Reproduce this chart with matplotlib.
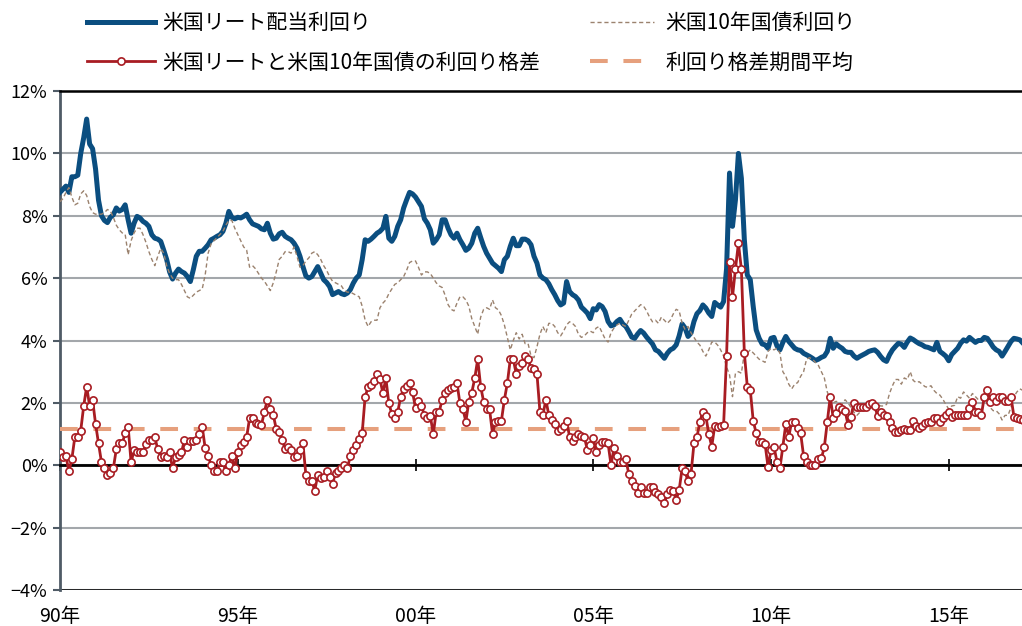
import matplotlib.pyplot as plt
import numpy as np
from matplotlib.lines import Line2D

plt.rcParams['font.family'] = ['Noto Sans CJK JP', 'DejaVu Sans']

# 月次データ（1990年1月〜）, 単位: %
start_year = 1990

reit_yield = [
    8.75, 8.85, 8.95, 8.75, 9.25, 9.25, 9.3, 10.0, 10.5, 11.1, 10.3, 10.15,   # 1990
    9.5, 8.5, 8.0, 7.85, 7.78, 7.95, 8.03, 8.25, 8.15, 8.2, 8.35, 7.87,       # 1991
    7.44, 7.76, 7.98, 7.93, 7.82, 7.76, 7.66, 7.39, 7.28, 7.25, 7.18, 6.9,    # 1992
    6.6, 6.2, 5.97, 6.16, 6.29, 6.21, 6.16, 6.05, 5.89, 6.27, 6.7, 6.86,      # 1993
    6.86, 6.96, 7.07, 7.23, 7.28, 7.34, 7.39, 7.5, 7.76, 8.14, 7.95, 7.9,     # 1994
    7.95, 7.93, 7.98, 8.05, 7.87, 7.74, 7.7, 7.66, 7.58, 7.55, 7.76, 7.44,    # 1995
    7.25, 7.28, 7.42, 7.47, 7.34, 7.28, 7.23, 7.12, 6.96, 6.7, 6.37, 6.07,    # 1996
    6.0, 6.05, 6.21, 6.37, 6.16, 5.95, 5.86, 5.73, 5.47, 5.52, 5.57, 5.5,     # 1997
    5.47, 5.52, 5.63, 5.84, 6.0, 6.1, 6.59, 7.23, 7.18, 7.25, 7.34, 7.44,     # 1998
    7.5, 7.6, 7.98, 7.28, 7.18, 7.34, 7.66, 7.87, 8.25, 8.51, 8.75, 8.7,      # 1999
    8.6, 8.45, 8.3, 7.9, 7.76, 7.55, 7.12, 7.23, 7.39, 7.87, 7.87, 7.6,       # 2000
    7.39, 7.28, 7.44, 7.23, 7.07, 6.89, 6.96, 7.12, 7.44, 7.6, 7.3, 7.02,     # 2001
    6.8, 6.64, 6.48, 6.4, 6.32, 6.21, 6.59, 6.7, 7.02, 7.28, 7.04, 7.04,      # 2002
    7.25, 7.25, 7.2, 7.07, 6.7, 6.48, 6.1, 6.0, 5.95, 5.82, 5.63, 5.47,       # 2003
    5.28, 5.14, 5.2, 5.89, 5.57, 5.47, 5.41, 5.3, 5.07, 4.98, 4.88, 4.7,      # 2004
    5.02, 4.98, 5.15, 5.09, 4.93, 4.61, 4.47, 4.5, 4.61, 4.68, 4.53, 4.45,    # 2005
    4.29, 4.11, 4.07, 4.21, 4.32, 4.24, 4.11, 4.0, 3.89, 3.7, 3.65, 3.54,     # 2006
    3.43, 3.59, 3.7, 3.75, 3.86, 4.15, 4.53, 4.4, 4.13, 4.24, 4.61, 4.86,     # 2007
    4.96, 5.14, 5.04, 4.88, 4.77, 5.22, 5.14, 5.07, 5.25, 6.3, 9.37, 7.66,    # 2008
    8.51, 10.0, 9.2, 7.23, 6.1, 5.95, 5.09, 4.34, 4.07, 3.89, 3.86, 3.75,     # 2009
    4.07, 4.1, 3.83, 3.7, 3.94, 4.13, 3.97, 3.86, 3.75, 3.7, 3.68, 3.59,      # 2010
    3.54, 3.49, 3.43, 3.36, 3.4, 3.46, 3.5, 3.65, 4.07, 3.75, 3.89, 3.81,     # 2011
    3.75, 3.65, 3.62, 3.62, 3.5, 3.43, 3.49, 3.54, 3.59, 3.65, 3.68, 3.7,     # 2012
    3.62, 3.49, 3.38, 3.33, 3.54, 3.7, 3.81, 3.91, 3.88, 3.78, 3.95, 4.08,    # 2013
    4.03, 3.96, 3.9, 3.86, 3.8, 3.78, 3.74, 3.7, 3.94, 3.65, 3.58, 3.5,       # 2014
    3.35, 3.55, 3.65, 3.75, 3.91, 4.02, 3.98, 4.1, 4.02, 3.94, 4.0, 4.0,      # 2015
    4.1, 4.07, 3.94, 3.79, 3.7, 3.65, 3.5, 3.65, 3.81, 3.97, 4.07, 4.05,      # 2016
    4.02, 3.92,                                                               # 2017
]

ust10_yield = [
    8.45, 8.55, 8.75, 8.9, 8.6, 8.35, 8.4, 8.7, 8.8, 8.65, 8.3, 8.1,          # 1990
    8.05, 8.05, 8.05, 8.1, 8.2, 8.15, 7.95, 7.7, 7.55, 7.45, 7.4, 6.75,       # 1991
    7.2, 7.45, 7.6, 7.6, 7.4, 7.15, 6.85, 6.6, 6.4, 6.7, 6.95, 6.8,           # 1992
    6.4, 6.15, 6.0, 5.95, 5.95, 5.8, 5.6, 5.4, 5.35, 5.45, 5.55, 5.6,         # 1993
    5.65, 6.1, 6.8, 7.1, 7.2, 7.3, 7.4, 7.5, 7.7, 7.85, 7.85, 7.6,            # 1994
    7.4, 7.2, 7.0, 6.9, 6.35, 6.4, 6.3, 6.15, 6.0, 5.9, 5.75, 5.6,            # 1995
    5.85, 6.2, 6.6, 6.7, 6.85, 6.85, 6.8, 7.0, 6.7, 6.35, 6.4, 6.55,          # 1996
    6.65, 6.8, 6.85, 6.75, 6.6, 6.4, 6.25, 6.05, 5.9, 5.85, 5.8, 5.75,        # 1997
    5.6, 5.55, 5.55, 5.5, 5.45, 5.4, 5.1, 4.65, 4.45, 4.6, 4.65, 4.65,        # 1998
    5.05, 5.2, 5.3, 5.5, 5.65, 5.8, 5.85, 5.95, 6.05, 6.25, 6.5, 6.55,        # 1999
    6.55, 6.35, 6.1, 6.2, 6.2, 6.15, 6.0, 5.85, 5.75, 5.7, 5.45, 5.15,        # 2000
    5.0, 4.95, 5.2, 5.4, 5.4, 5.3, 5.1, 4.7, 4.45, 4.2, 4.75, 5.0,            # 2001
    5.05, 5.0, 5.3, 5.05, 4.98, 4.8, 4.5, 4.1, 3.7, 4.0, 4.25, 4.05,          # 2002
    4.2, 3.9, 3.9, 3.5, 3.45, 3.8, 4.2, 4.45, 4.25, 4.55, 4.55, 4.45,         # 2003
    4.25, 4.15, 4.3, 4.5, 4.6, 4.55, 4.45, 4.2, 4.1, 4.15, 4.25, 4.3,         # 2004
    4.25, 4.4, 4.45, 4.25, 4.05, 3.95, 4.25, 4.4, 4.5, 4.55, 4.5, 4.45,       # 2005
    4.65, 4.85, 4.95, 5.05, 5.15, 5.1, 4.95, 4.75, 4.6, 4.65, 4.55, 4.75,     # 2006
    4.65, 4.55, 4.65, 4.85, 5.0, 4.95, 4.55, 4.35, 4.45, 4.25, 4.1, 3.95,     # 2007
    3.85, 3.65, 3.5, 3.7, 3.95, 3.95, 3.85, 3.7, 3.5, 3.15, 2.9, 2.2,         # 2008
    2.95, 3.0, 2.95, 3.6, 3.6, 3.7, 3.6, 3.5, 3.4, 3.35, 3.3, 3.65,           # 2009
    3.75, 3.7, 3.75, 3.6, 3.0, 2.85, 2.6, 2.45, 2.6, 2.65, 2.85, 3.0,         # 2010
    3.4, 3.45, 3.4, 3.3, 3.2, 3.0, 2.8, 2.35, 2.1, 2.0, 2.05, 2.0,            # 2011
    1.95, 2.1, 2.0, 1.85, 1.7, 1.6, 1.7, 1.75, 1.85, 1.8, 1.85, 1.95,         # 2012
    1.95, 1.9, 1.9, 1.95, 2.3, 2.55, 2.75, 2.75, 2.6, 2.8, 2.75, 3.0,         # 2013
    2.72, 2.65, 2.68, 2.6, 2.52, 2.5, 2.55, 2.4, 2.3, 2.25, 2.12, 1.95,       # 2014
    1.8, 1.9, 1.92, 2.2, 2.15, 2.35, 2.25, 2.15, 2.3, 2.2, 2.1, 2.1,          # 2015
    2.25, 2.05, 1.85, 1.75, 1.75, 1.65, 1.45, 1.6, 1.6, 1.85, 2.2, 2.35,      # 2016
    2.45, 2.4,                                                                # 2017
]

yield_spread = [
    0.41, 0.26, 0.3, -0.2, 0.2, 0.9, 0.9, 1.11, 1.9, 2.52, 1.9, 2.1,          # 1990
    1.33, 0.7, 0.1, -0.1, -0.31, -0.24, -0.1, 0.51, 0.7, 0.7, 1.03, 1.24,     # 1991
    0.09, 0.49, 0.41, 0.41, 0.41, 0.68, 0.81, 0.81, 0.9, 0.51, 0.28, 0.3,     # 1992
    0.28, 0.41, -0.1, 0.26, 0.33, 0.41, 0.81, 0.57, 0.79, 0.79, 0.8, 1.0,     # 1993
    1.24, 0.55, 0.3, 0.01, -0.2, -0.2, 0.09, 0.09, -0.2, 0.01, 0.3, -0.1,     # 1994
    0.41, 0.65, 0.76, 0.9, 1.51, 1.5, 1.35, 1.32, 1.29, 1.72, 2.1, 1.8,       # 1995
    1.61, 1.16, 1.08, 0.81, 0.51, 0.6, 0.5, 0.28, 0.3, 0.5, 0.7, -0.31,       # 1996
    -0.52, -0.52, -0.81, -0.31, -0.42, -0.38, -0.2, -0.38, -0.6, -0.24, -0.2, -0.1,  # 1997
    0.01, -0.1, 0.3, 0.5, 0.65, 0.83, 1.03, 2.2, 2.5, 2.58, 2.7, 2.93,        # 1998
    2.76, 2.31, 2.79, 1.99, 1.65, 1.51, 1.7, 2.2, 2.45, 2.55, 2.63, 2.35,     # 1999
    1.83, 2.07, 1.9, 1.61, 1.5, 1.58, 1.0, 1.72, 1.72, 2.1, 2.31, 2.42,       # 2000
    2.47, 2.52, 2.63, 1.99, 1.8, 1.4, 2.04, 2.33, 2.79, 3.4, 2.52, 2.04,      # 2001
    1.8, 1.8, 1.0, 1.4, 1.43, 1.43, 2.1, 2.63, 3.4, 3.4, 2.93, 3.17,          # 2002
    3.29, 3.51, 3.4, 3.11, 3.1, 2.93, 1.72, 1.61, 2.1, 1.61, 1.45, 1.33,      # 2003
    1.11, 1.15, 1.25, 1.43, 0.92, 0.79, 0.9, 1.0, 0.95, 0.9, 0.5, 0.65,       # 2004
    0.88, 0.41, 0.65, 0.75, 0.75, 0.7, 0.01, 0.55, 0.3, 0.09, 0.09, 0.19,     # 2005
    -0.28, -0.49, -0.68, -0.9, -0.7, -0.9, -0.9, -0.7, -0.7, -0.85, -0.92, -1.03,    # 2006
    -1.22, -0.92, -0.8, -0.82, -1.11, -0.79, -0.1, -0.2, -0.52, -0.28, 0.7, 0.9,     # 2007
    1.4, 1.72, 1.58, 1.0, 0.6, 1.26, 1.22, 1.26, 1.29, 3.5, 6.51, 5.39,       # 2008
    6.29, 7.12, 6.29, 3.61, 2.52, 2.42, 1.42, 1.03, 0.73, 0.73, 0.68, -0.06,  # 2009
    0.49, 0.6, 0.12, -0.1, 0.6, 1.33, 0.92, 1.4, 1.38, 1.2, 1.03, 0.3,        # 2010
    0.09, 0.01, 0.01, 0.01, 0.19, 0.22, 0.58, 1.4, 2.2, 1.51, 1.69, 1.88,     # 2011
    1.8, 1.75, 1.29, 1.56, 2.01, 1.88, 1.88, 1.88, 1.88, 1.95, 2.01, 1.9,     # 2012
    1.58, 1.72, 1.6, 1.58, 1.4, 1.19, 1.08, 1.08, 1.12, 1.17, 1.12, 1.13,     # 2013
    1.42, 1.25, 1.2, 1.27, 1.35, 1.4, 1.38, 1.5, 1.5, 1.4, 1.52, 1.6,         # 2014
    1.72, 1.56, 1.6, 1.62, 1.62, 1.62, 1.62, 1.85, 2.04, 1.72, 1.72, 1.6,     # 2015
    2.2, 2.42, 2.04, 2.2, 2.05, 2.2, 2.2, 2.05, 2.05, 2.2, 1.56, 1.52,        # 2016
    1.48, 1.45,                                                               # 2017
]

spread_mean = 1.15  # 利回り格差の期間平均

year_ticks = [1990, 1995, 2000, 2005, 2010, 2015]
year_labels = ['90年', '95年', '00年', '05年', '10年', '15年']
pct_ticks = [-4, -2, 0, 2, 4, 6, 8, 10, 12]
pct_labels = ['−4%', '−2%', '0%', '2%', '4%', '6%', '8%', '10%', '12%']

name_reit = '米国リート配当利回り'
name_ust = '米国10年国債利回り'
name_spread = '米国リートと米国10年国債の利回り格差'
name_mean = '利回り格差期間平均'

# 色
c_blue = '#0B4E80'
c_brown = '#9B826E'
c_red = '#A81C22'
c_salmon = '#E6A07D'

months = np.arange(len(reit_yield))
x = start_year + months / 12.0

W, H = 1022, 626
fig = plt.figure(figsize=(W / 100, H / 100), dpi=100)
ax = fig.add_axes([60 / W, 36 / H, 962 / W, 499 / H])

ax.plot(x, reit_yield, color=c_blue, lw=3.6, solid_joinstyle='round', zorder=3)
ax.plot(x, ust10_yield, color=c_brown, lw=1.0, dashes=(3, 2), zorder=4)
ax.plot(x, np.full(len(x), spread_mean), color=c_salmon, lw=2.9,
        dashes=(4.4, 3.9), zorder=4.5)
ax.plot(x, yield_spread, color=c_red, lw=2.0, marker='o', ms=5.2,
        mfc='white', mec=c_red, mew=1.2, zorder=5)

ax.set_xlim(start_year, start_year + 962 / 35.55)
ax.set_ylim(pct_ticks[0], pct_ticks[-1])

# 軸・目盛
ax.set_yticks(pct_ticks)
ax.set_yticklabels(pct_labels, fontsize=13)
ax.yaxis.grid(True, color='#A3A7AB', lw=1.5)
ax.set_axisbelow(True)
ax.tick_params(axis='y', direction='out', length=5, width=1.5, color='#4F5B66', pad=4)

ax.spines['right'].set_visible(False)
ax.spines['top'].set_color('black')
ax.spines['top'].set_linewidth(1.8)
ax.spines['left'].set_color('#4F5B66')
ax.spines['left'].set_linewidth(2.0)
ax.spines['bottom'].set_position(('data', 0))
ax.spines['bottom'].set_color('black')
ax.spines['bottom'].set_linewidth(2.0)
ax.axhline(pct_ticks[0], color='black', lw=1.8, zorder=2)

ax.set_xticks(year_ticks)
ax.tick_params(axis='x', direction='inout', length=9, width=1.2, color='black',
               labelbottom=False)
for yr, lab in zip(year_ticks, year_labels):
    ax.annotate(lab, xy=(yr, pct_ticks[0]), xytext=(0, -11.5), textcoords='offset points',
                ha='center', va='top', fontsize=14, annotation_clip=False)

# 凡例
h_reit = Line2D([], [], color=c_blue, lw=3.6)
h_spread = Line2D([], [], color=c_red, lw=2.0, marker='o', ms=5.2,
                  mfc='white', mec=c_red, mew=1.2)
h_ust = Line2D([], [], color=c_brown, lw=1.0, dashes=(3, 2))
h_mean = Line2D([], [], color=c_salmon, lw=2.9, dashes=(4.4, 3.9))

leg_kw = dict(loc='upper left', frameon=False, fontsize=15,
              labelspacing=0.85, borderpad=0, borderaxespad=0,
              bbox_transform=fig.transFigure)
fig.legend([h_reit, h_spread], [name_reit, name_spread],
           bbox_to_anchor=(87 / W, 1 - 12 / H), handlelength=3.25,
           handletextpad=0.35, **leg_kw)
fig.legend([h_ust, h_mean], [name_ust, name_mean],
           bbox_to_anchor=(590 / W, 1 - 12 / H), handlelength=3.05,
           handletextpad=0.55, **leg_kw)

fig.savefig('out.png', dpi=100, facecolor='white')
